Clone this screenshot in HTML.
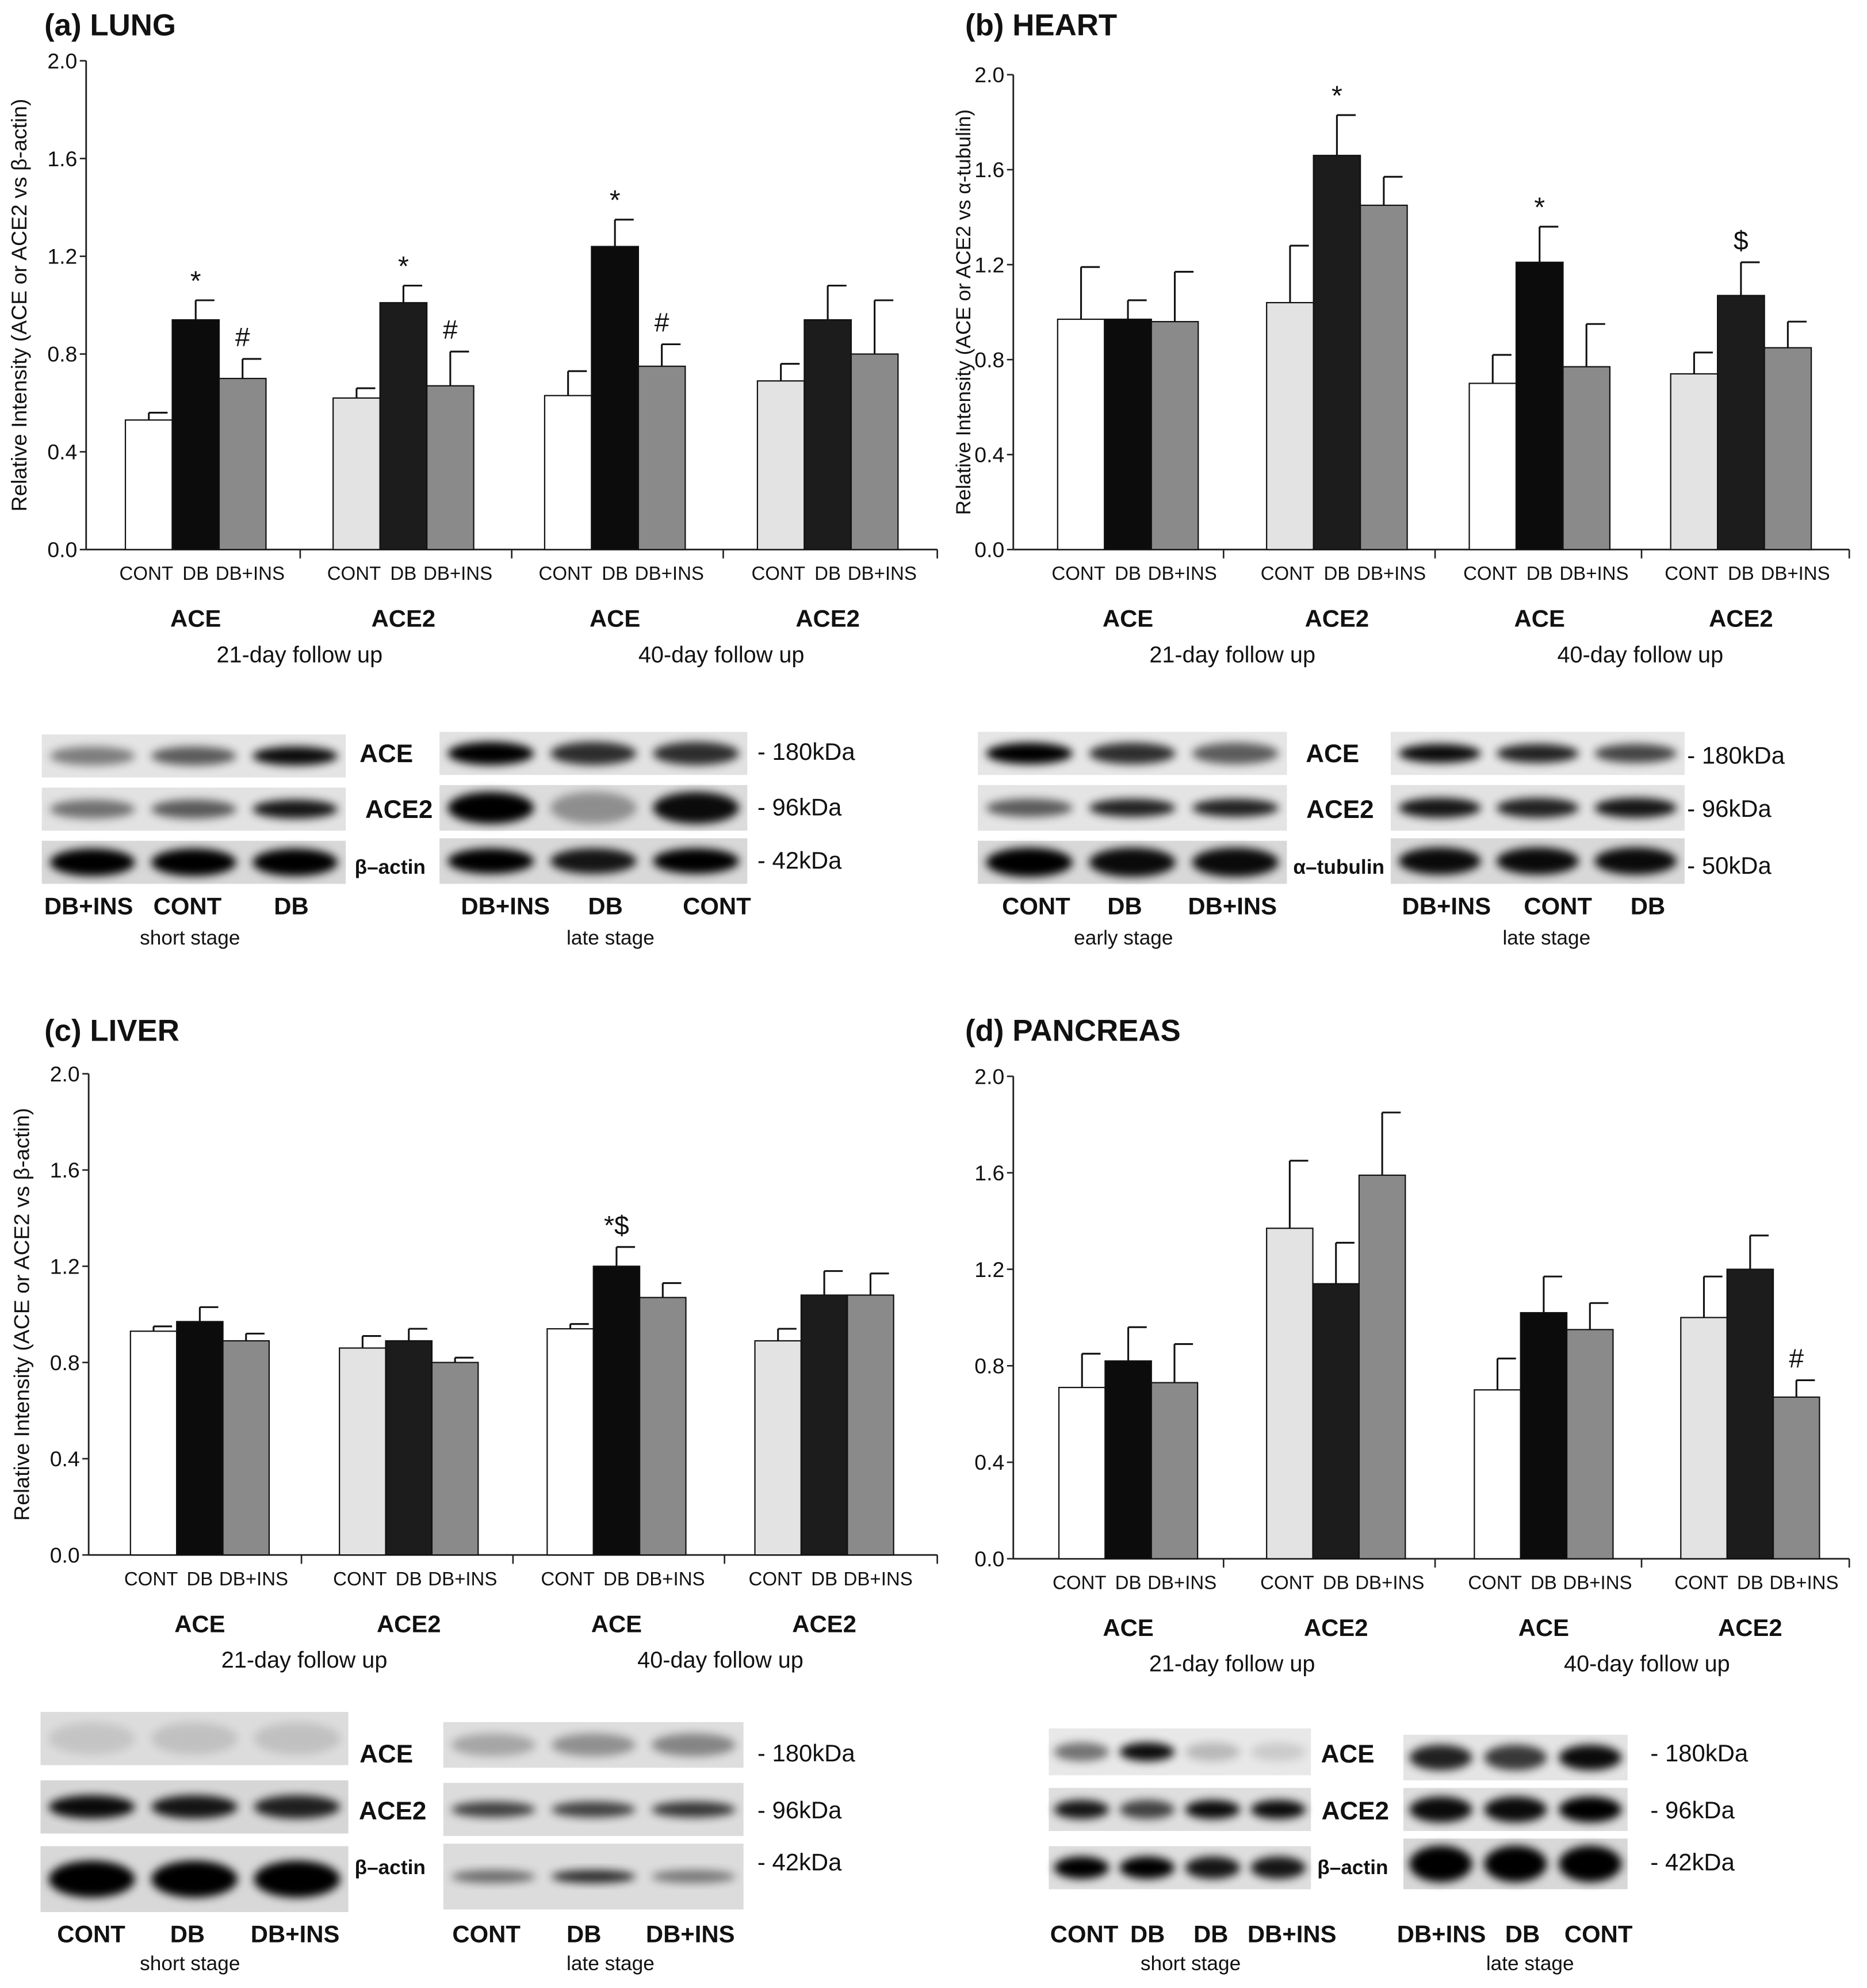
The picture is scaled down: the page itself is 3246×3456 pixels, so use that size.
<!DOCTYPE html>
<html><head><meta charset="utf-8">
<style>
html,body{margin:0;padding:0;background:#fff;}
svg{display:block;}
text{font-family:"Liberation Sans Narrow","Liberation Sans",sans-serif;fill:#111;}
</style></head>
<body>
<svg id="fig" width="3246" height="3456" viewBox="0 0 1474 1570" preserveAspectRatio="none" xmlns="http://www.w3.org/2000/svg">
<defs><filter id="blur" x="-20%" y="-50%" width="140%" height="200%"><feGaussianBlur stdDeviation="3.5"/></filter></defs>
</svg>
<script>
// ---------- data ----------
const groups = ["ACE","ACE2","ACE","ACE2"];
const categories = ["CONT","DB","DB+INS"];
const followups = ["21-day follow up","40-day follow up"];
const yTicks = [0.0,0.4,0.8,1.2,1.6,2.0];
const lungValues = [0.53,0.94,0.70, 0.62,1.01,0.67, 0.63,1.24,0.75, 0.69,0.94,0.80];
const lungErrors = [0.03,0.08,0.08, 0.04,0.07,0.14, 0.10,0.11,0.09, 0.07,0.14,0.22];
const heartValues = [0.97,0.97,0.96, 1.04,1.66,1.45, 0.70,1.21,0.77, 0.74,1.07,0.85];
const heartErrors = [0.22,0.08,0.21, 0.24,0.17,0.12, 0.12,0.15,0.18, 0.09,0.14,0.11];
const liverValues = [0.93,0.97,0.89, 0.86,0.89,0.80, 0.94,1.20,1.07, 0.89,1.08,1.08];
const liverErrors = [0.02,0.06,0.03, 0.05,0.05,0.02, 0.02,0.08,0.06, 0.05,0.10,0.09];
const pancValues = [0.71,0.82,0.73, 1.37,1.14,1.59, 0.70,1.02,0.95, 1.00,1.20,0.67];
const pancErrors = [0.14,0.14,0.16, 0.28,0.17,0.26, 0.13,0.15,0.11, 0.17,0.14,0.07];
const lungMarks = [null,"*","#", null,"*","#", null,"*","#", null,null,null];
const heartMarks = [null,null,null, null,"*",null, null,"*",null, null,"$",null];
const liverMarks = [null,null,null, null,null,null, null,"*$",null, null,null,null];
const pancMarks = [null,null,null, null,null,null, null,null,null, null,null,"#"];

const NS="http://www.w3.org/2000/svg";
const svg=document.getElementById('fig');
function el(tag,attrs,parent,txt){const e=document.createElementNS(NS,tag);for(const k in attrs)e.setAttribute(k,attrs[k]);if(txt!==undefined)e.textContent=txt;(parent||svg).appendChild(e);return e;}

function chart(p){
  const g=el('g',{});
  
  
  const y=v=>p.y0-(v/2.0)*(p.y0-p.y2);
  const ya=el('line',{x1:p.ax,y1:p.y0,x2:p.ax,y2:y(2.0),stroke:'#222','stroke-width':1.3},g);
  
  yTicks.forEach(t=>{
    el('line',{x1:p.ax-5,y1:y(t),x2:p.ax,y2:y(t),stroke:'#222','stroke-width':1.2},g);
    const tl=el('text',{x:p.ax-7,y:y(t)+6,'text-anchor':'end','font-size':17},g,t.toFixed(1));
    
  });
  const xa=el('line',{x1:p.ax,y1:p.y0,x2:p.xend,y2:p.y0,stroke:'#222','stroke-width':1.3},g);
  
  p.seps.forEach(s=>el('line',{x1:s,y1:p.y0,x2:s,y2:p.y0+7,stroke:'#222','stroke-width':1.2},g));
  if(p.ytitle){
    const yt=el('text',{transform:`translate(${p.ytx},${(p.y0+y(2))/2}) rotate(-90)`,'text-anchor':'middle','font-size':p.ytfs||17,style:'font-family:"Liberation Sans",sans-serif'},g,p.ytitle);
    
  }
  const bw=p.bw;
  p.vals.forEach((v,i)=>{
    const gi=Math.floor(i/3),ci=i%3;
    const x=p.gx[gi]+ci*bw;
    let fill=ci==0?(gi%2==0?'#ffffff':'#e3e3e3'):ci==1?(gi%2==0?'#0c0c0c':'#1c1c1c'):'#8a8a8a';
    const top=y(v+p.errs[i]);
    el('line',{x1:x+bw/2,y1:y(v),x2:x+bw/2,y2:top,stroke:'#111','stroke-width':1.4},g);
    el('line',{x1:x+bw/2,y1:top,x2:x+bw/2+bw*0.4,y2:top,stroke:'#111','stroke-width':1.4},g);
    const r=el('rect',{x:x,y:y(v),width:bw,height:p.y0-y(v),fill:fill,stroke:'#111','stroke-width':1},g);
    
    
    if(p.marks[i]){
      const m=el('text',{x:x+bw/2,y:top-(p.marks[i]=='*'?8:10),'text-anchor':'middle','font-size':p.marks[i]=='*'?22:21,style:'font-family:"Liberation Sans",sans-serif'},g,p.marks[i]);
      
    }
    const cl=el('text',{x:x+bw/2+(ci==2?6:ci==0?-2:0),y:p.y0+24,'text-anchor':'middle','font-size':15},g,categories[ci]);
    
  });
  groups.forEach((gn,gi)=>{
    const gl=el('text',{x:p.gx[gi]+1.5*bw,y:p.y0+61,'text-anchor':'middle','font-size':19,style:'font-family:"Liberation Sans",sans-serif;font-weight:bold'},g,gn);
    
  });
  followups.forEach((f,fi)=>{
    const cx=(p.gx[fi*2]+p.gx[fi*2+1]+3*bw)/2;
    const fl=el('text',{x:cx,y:p.y0+89,'text-anchor':'middle','font-size':18,style:'font-family:"Liberation Sans",sans-serif'},g,f);
    
  });
  const tt=el('text',{x:p.tx,y:p.ty,'font-size':24,style:'font-family:"Liberation Sans",sans-serif;font-weight:bold'},g,p.title);
  
}

chart({name:'lung-chart',title:'(a) LUNG',tx:35,ty:28,ax:68,y0:434,y2:48,xend:740,seps:[237,404,571,740],gx:[99,263,430,598],bw:37,vals:lungValues,errs:lungErrors,marks:lungMarks,ytitle:'Relative Intensity (ACE or ACE2 vs β-actin)',ytx:21});
chart({name:'heart-chart',title:'(b) HEART',tx:762,ty:28,ax:800,y0:434,y2:59,xend:1460,seps:[966,1133,1296,1460],gx:[835,1000,1160,1319],bw:37,vals:heartValues,errs:heartErrors,marks:heartMarks,ytitle:'Relative Intensity (ACE or ACE2 vs α-tubulin)',ytx:766,ytfs:16});
chart({name:'liver-chart',title:'(c) LIVER',tx:35,ty:822,ax:70,y0:1228,y2:848,xend:740,seps:[238,405,572,740],gx:[103,268,432,596],bw:36.5,vals:liverValues,errs:liverErrors,marks:liverMarks,ytitle:'Relative Intensity (ACE or ACE2 vs β-actin)',ytx:23});
chart({name:'pancreas-chart',title:'(d) PANCREAS',tx:762,ty:822,ax:800,y0:1231,y2:850,xend:1460,seps:[966,1133,1296,1460],gx:[836,1000,1164,1327],bw:36.5,vals:pancValues,errs:pancErrors,marks:pancMarks,ytitle:null});

// ---------- western blots ----------
function blot(b){
  const g=el('g',{});
  
  
  b.rows.forEach(r=>{
    el('rect',{x:b.x,y:r[0],width:b.w,height:r[1],fill:r[2]},g);
    const n=r[3].length;
    r[3].forEach((op,i)=>{
      const cx=b.x+b.w*(i+0.5)/n;
      el('ellipse',{cx:cx,cy:r[0]+r[1]/2,rx:b.w/n*0.42,ry:r[1]*r[4],fill:'#000',opacity:op,filter:'url(#blur)'},g);
    });
  });
}
blot({name:'lung-blot-short',x:33,w:240,rows:[[580,34,'#e4e4e4',[0.45,0.6,0.95],0.22],[622,34,'#e2e2e2',[0.5,0.6,0.9],0.22],[664,34,'#d8d8d8',[1,1,1],0.32]]});
blot({name:'lung-blot-late',x:347,w:243,rows:[[578,34,'#e2e2e2',[1,0.8,0.8],0.27],[620,36,'#dcdcdc',[1,0.35,0.95],0.35],[662,36,'#d8d8d8',[1,0.9,1],0.28]]});
blot({name:'heart-blot-early',x:772,w:244,rows:[[578,34,'#e6e6e6',[1,0.8,0.6],0.25],[620,36,'#e4e4e4',[0.6,0.85,0.85],0.2],[664,34,'#d8d8d8',[1,0.95,0.95],0.34]]});
blot({name:'heart-blot-late',x:1098,w:232,rows:[[578,34,'#e6e6e6',[0.95,0.85,0.7],0.22],[620,36,'#e2e2e2',[0.9,0.85,0.9],0.22],[662,36,'#d8d8d8',[0.95,0.95,0.95],0.3]]});
blot({name:'liver-blot-short',x:32,w:243,rows:[[1352,42,'#dcdcdc',[0.1,0.12,0.12],0.3],[1406,42,'#d6d6d6',[0.95,0.9,0.85],0.22],[1458,52,'#d8d8d8',[1,1,1],0.28]]});
blot({name:'liver-blot-late',x:350,w:237,rows:[[1360,36,'#dedede',[0.25,0.35,0.4],0.25],[1408,42,'#dcdcdc',[0.7,0.7,0.75],0.15],[1456,52,'#dcdcdc',[0.5,0.8,0.45],0.1]]});
blot({name:'pancreas-blot-short',x:828,w:207,rows:[[1365,37,'#e8e8e8',[0.5,0.95,0.2,0.12],0.2],[1412,34,'#dedede',[0.9,0.7,0.95,0.95],0.22],[1458,34,'#dedede',[1,1,0.9,0.9],0.26]]});
blot({name:'pancreas-blot-late',x:1108,w:177,rows:[[1370,36,'#e4e4e4',[0.85,0.75,0.95],0.28],[1412,34,'#dedede',[0.95,0.95,1],0.3],[1452,40,'#d8d8d8',[1,1,1],0.36]]});

const blotLabels = [
 [305,602,'ACE',20,1,'middle'],[315,646,'ACE2',20,1,'middle'],[308,690,'β–actin',16,1,'middle'],
 [598,600,'-  180kDa',19,0,'start'],[598,644,'-  96kDa',19,0,'start'],[598,686,'-  42kDa',19,0,'start'],
 [70,722,'DB+INS',19,1,'middle'],[148,722,'CONT',19,1,'middle'],[230,722,'DB',19,1,'middle'],
 [399,722,'DB+INS',19,1,'middle'],[478,722,'DB',19,1,'middle'],[566,722,'CONT',19,1,'middle'],
 [150,746,'short stage',16,0,'middle'],[482,746,'late stage',16,0,'middle'],
 [1052,602,'ACE',20,1,'middle'],[1058,646,'ACE2',20,1,'middle'],[1057,690,'α–tubulin',16,1,'middle'],
 [1332,603,'- 180kDa',19,0,'start'],[1332,645,'-  96kDa',19,0,'start'],[1332,690,'-  50kDa',19,0,'start'],
 [818,722,'CONT',19,1,'middle'],[888,722,'DB',19,1,'middle'],[973,722,'DB+INS',19,1,'middle'],
 [1142,722,'DB+INS',19,1,'middle'],[1230,722,'CONT',19,1,'middle'],[1301,722,'DB',19,1,'middle'],
 [887,746,'early stage',16,0,'middle'],[1221,746,'late stage',16,0,'middle'],
 [305,1392,'ACE',20,1,'middle'],[310,1437,'ACE2',20,1,'middle'],[308,1480,'β–actin',16,1,'middle'],
 [598,1391,'-  180kDa',19,0,'start'],[598,1436,'-  96kDa',19,0,'start'],[598,1477,'-  42kDa',19,0,'start'],
 [72,1534,'CONT',19,1,'middle'],[148,1534,'DB',19,1,'middle'],[233,1534,'DB+INS',19,1,'middle'],
 [384,1534,'CONT',19,1,'middle'],[461,1534,'DB',19,1,'middle'],[545,1534,'DB+INS',19,1,'middle'],
 [150,1556,'short stage',16,0,'middle'],[482,1556,'late stage',16,0,'middle'],
 [1064,1392,'ACE',20,1,'middle'],[1070,1437,'ACE2',20,1,'middle'],[1068,1480,'β–actin',16,1,'middle'],
 [1303,1391,'-  180kDa',19,0,'start'],[1303,1436,'-  96kDa',19,0,'start'],[1303,1477,'-  42kDa',19,0,'start'],
 [856,1534,'CONT',19,1,'middle'],[906,1534,'DB',19,1,'middle'],[956,1534,'DB',19,1,'middle'],[1020,1534,'DB+INS',19,1,'middle'],
 [1138,1534,'DB+INS',19,1,'middle'],[1202,1534,'DB',19,1,'middle'],[1262,1534,'CONT',19,1,'middle'],
 [940,1556,'short stage',16,0,'middle'],[1208,1556,'late stage',16,0,'middle']
];
blotLabels.forEach(l=>{
  const t=el('text',{x:l[0],y:l[1],'font-size':l[3],'text-anchor':l[5],style:'font-family:"Liberation Sans",sans-serif;'+(l[4]?'font-weight:bold':'')},svg,l[2]);
  
  
});
</script>
</body></html>
